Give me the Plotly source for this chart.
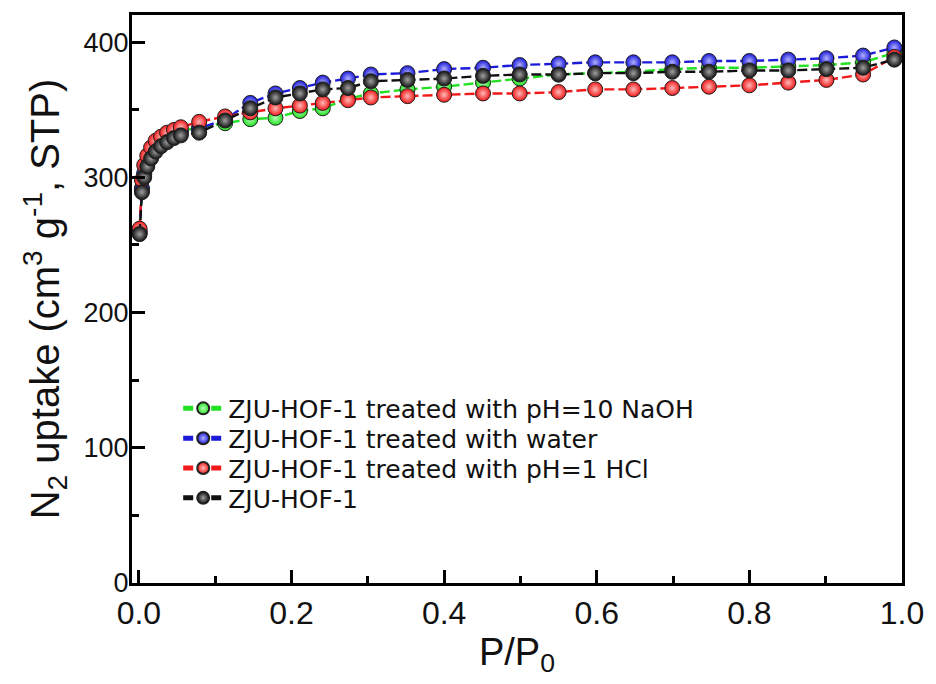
import plotly.graph_objects as go

# P/P0 values shared by all series
p_rel = [0.001, 0.004, 0.007, 0.011, 0.016, 0.022, 0.029, 0.037, 0.046, 0.055,
         0.079, 0.113, 0.146, 0.179, 0.211, 0.241, 0.274, 0.304, 0.352, 0.400,
         0.451, 0.499, 0.550, 0.598, 0.648, 0.699, 0.747, 0.800, 0.851, 0.901,
         0.949, 0.990]

green_naoh = [259, 292, 303, 311, 317, 322, 326, 329, 332, 334,
              337, 340, 343, 344, 349, 351, 358, 362, 365, 367,
              370, 373, 376, 377, 378, 380, 381, 381, 382, 383,
              385, 392]
blue_water = [260, 291, 302, 310, 316, 321, 325, 328, 331, 333,
              336, 343, 355, 362, 366, 370, 373, 376, 377, 380,
              381, 383, 384, 385, 385, 385, 386, 386, 387, 388,
              390, 396]
red_hcl = [262, 298, 309, 316, 322, 327, 330, 333, 335, 337,
           341, 345, 348, 351, 353, 355, 357, 359, 360, 361,
           362, 362, 363, 365, 365, 366, 367, 368, 370, 372,
           376, 389]
black_hof = [258, 289, 300, 308, 314, 319, 323, 326, 329, 331,
             333, 342, 351, 359, 362, 365, 366, 371, 372, 373,
             375, 376, 376, 377, 377, 378, 378, 379, 379, 380,
             381, 387]

series_names = ["ZJU-HOF-1 treated with pH=10 NaOH",
                "ZJU-HOF-1 treated with water",
                "ZJU-HOF-1 treated with pH=1 HCl",
                "ZJU-HOF-1"]
series_values = [green_naoh, blue_water, red_hcl, black_hof]
series_colors = ["#22e022", "#1a1ad8", "#f01818", "#101010"]
highlight_colors = ["#b8ffb8", "#b0b0ff", "#ffb8b8", "#a0a0a0"]
legend_ids = ["legend", "legend2", "legend3", "legend4"]
legend_rows_y = [0.307, 0.2545, 0.202, 0.1495]

fig = go.Figure()
for name, vals, col, hl, lid in zip(series_names, series_values, series_colors,
                                    highlight_colors, legend_ids):
    fig.add_trace(go.Scatter(
        x=p_rel, y=vals, name=name, mode="lines+markers", legend=lid,
        line=dict(color=col, width=2.4, dash="10px,4px"),
        marker=dict(size=15, color=col,
                    gradient=dict(type="radial", color=hl),
                    line=dict(color="#202020", width=1)),
    ))

font_main = "Liberation Sans, Arial, sans-serif"
legend_common = dict(x=0.06, xanchor="left", yanchor="middle",
                     bgcolor="rgba(0,0,0,0)",
                     font=dict(size=25, color="#111111",
                               family="DejaVu Sans, Liberation Sans, sans-serif"),
                     itemwidth=40, itemsizing="constant")
layout_legends = {}
for lid, ly in zip(legend_ids, legend_rows_y):
    layout_legends[lid] = dict(y=ly, **legend_common)

fig.update_layout(
    width=936, height=684,
    margin=dict(l=132, r=26, t=13, b=101),
    paper_bgcolor="white", plot_bgcolor="white",
    font=dict(family=font_main, color="#111111"),
    showlegend=True,
    xaxis=dict(range=[-0.009, 1.0], tickvals=[0, 0.2, 0.4, 0.6, 0.8, 1.0],
               ticktext=["0.0", "0.2", "0.4", "0.6", "0.8", "1.0"],
               ticks="inside", ticklen=13, tickwidth=2.5, tickcolor="black",
               minor=dict(dtick=0.1, tick0=0, ticks="inside", ticklen=7,
                          tickwidth=2.5, tickcolor="black"),
               showline=True, linewidth=3, linecolor="black", mirror=True,
               showgrid=False, zeroline=False,
               tickfont=dict(size=32),
               title=dict(text="P/P<sub>0</sub>", font=dict(size=38), standoff=8)),
    yaxis=dict(range=[0, 420], tickvals=[0, 100, 200, 300, 400],
               ticks="inside", ticklen=13, tickwidth=2.5, tickcolor="black",
               minor=dict(dtick=50, tick0=0, ticks="inside", ticklen=7,
                          tickwidth=2.5, tickcolor="black"),
               showline=True, linewidth=3, linecolor="black", mirror=True,
               showgrid=False, zeroline=False,
               tickfont=dict(size=27), ticklabelstandoff=-5,
               title=dict(text="N<sub>2</sub> uptake (cm<sup>3</sup> g<sup>-1</sup>, STP)",
                          font=dict(size=40), standoff=12)),
    **layout_legends,
)

fig.write_html("out.html")
